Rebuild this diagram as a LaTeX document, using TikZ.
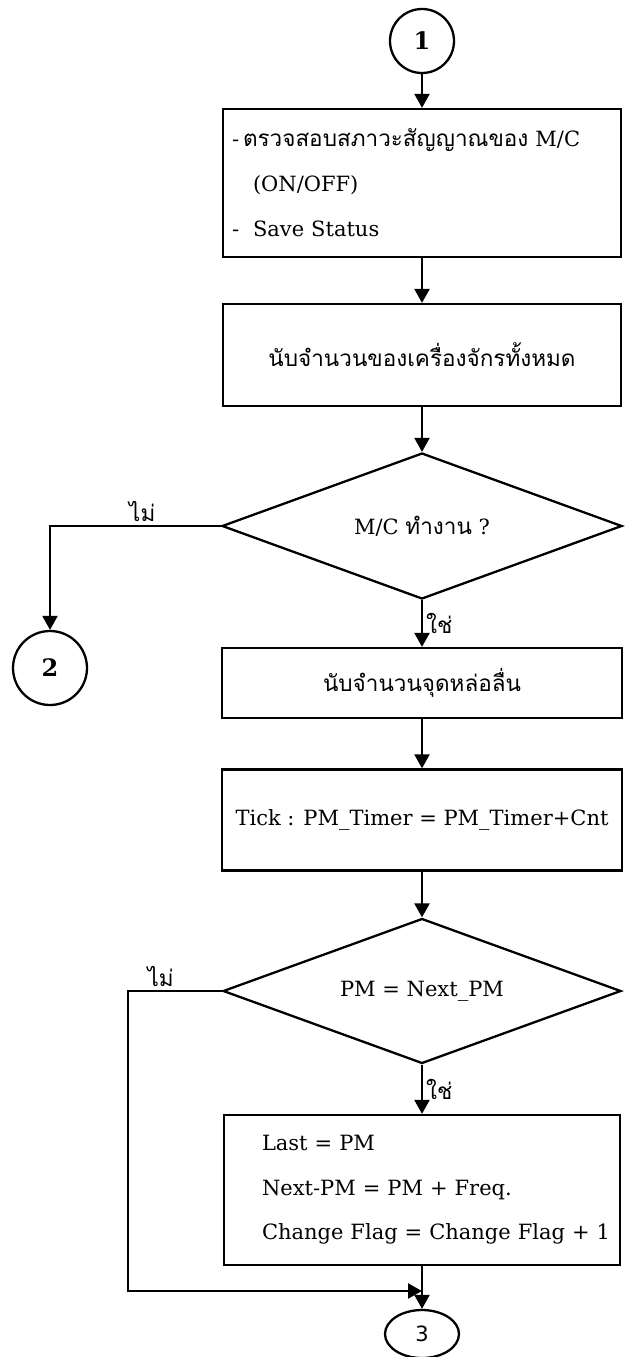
\documentclass[tikz,border=0pt]{standalone}
\usepackage{fontspec}
\setmainfont{DejaVu Serif}
\newfontfamily\thaifont[Script=Thai]{Loma}
\newfontfamily\digitfont{DejaVu Sans}
\newcommand\thtxt[1]{{\thaifont\fontsize{22.5}{26}\selectfont #1}}
\usetikzlibrary{arrows.meta,shapes.geometric}

\begin{document}
\begin{tikzpicture}[x=1pt,y=-1pt,line width=2.3pt,
  every node/.style={font=\fontsize{21}{25}\selectfont},
  box/.style={draw,rectangle,inner sep=0pt,minimum width=398pt},
  decision/.style={draw,diamond,inner sep=0pt,aspect=2.75,minimum width=400pt,minimum height=146pt},
  connector/.style={draw,circle,inner sep=0pt,font=\fontsize{24}{28}\selectfont\bfseries},
  arr/.style={-{Triangle[length=14pt,width=15pt]}},
  lbl/.style={inner sep=3pt}]
  \useasboundingbox (0,0) rectangle (625,1357);
  \node[connector,minimum size=64pt] (c1) at (422,41) {1};
  \node[box,minimum height=148pt,text width=380pt,align=left,
        font=\fontsize{21}{45}\selectfont] (chk) at (422,183)
    {\makebox[11pt][l]{-}\thtxt{ตรวจสอบสภาวะสัญญาณของ} M/C\\
     \hspace*{21pt}(ON/OFF)\\
     \makebox[21pt][l]{-}Save Status};
  \node[box,minimum height=102pt] (cnt) at (422,355) {\thtxt{นับจำนวนของเครื่องจักรทั้งหมด}};
  \node[decision] (dec1) at (422,526) {M/C \thtxt{ทำงาน} ?};
  \node[connector,minimum size=74pt] (c2) at (50,668) {2};
  \node[box,minimum width=400pt,minimum height=70pt] (lub) at (422,683) {\thtxt{นับจำนวนจุดหล่อลื่น}};
  \node[box,minimum width=400pt,minimum height=101pt] (tick) at (422,820) {Tick : PM\_Timer = PM\_Timer+Cnt};
  \node[decision,minimum width=398pt,minimum height=145pt] (dec2) at (422,991) {PM = Next\_PM};
  \node[box,minimum width=396pt,minimum height=150pt,text width=320pt,align=left,
        font=\fontsize{21}{44.5}\selectfont] (upd) at (422,1190)
    {\mbox{Last = PM}\\
     \mbox{Next-PM = PM + Freq.}\\
     \mbox{Change Flag = Change Flag + 1}};
  \node[draw,ellipse,inner sep=0pt,minimum width=74pt,minimum height=48pt] (c3) at (422,1334) {\digitfont 3};
  \coordinate (mrg) at (422,1291);

  \draw[arr] (c1) -- (chk);
  \draw[arr] (chk) -- (cnt);
  \draw[arr] (cnt) -- (dec1);
  \draw[arr] (dec1.west) -| node[pos=0.23,above,lbl] (no1) {\thtxt{ไม่}} (c2);
  \draw[arr] (dec1) -- node[right,lbl] (yes1) {\thtxt{ใช่}} (lub);
  \draw[arr] (lub) -- (tick);
  \draw[arr] (tick) -- (dec2);
  \draw[arr] (dec2.west) -- node[pos=0.65,above,lbl] (no2) {\thtxt{ไม่}} ++(-94,0) |- (mrg);
  \draw[arr] (dec2) -- node[right,lbl] (yes2) {\thtxt{ใช่}} (upd);
  \draw[arr] (upd) -- (c3);
\end{tikzpicture}
\end{document}
